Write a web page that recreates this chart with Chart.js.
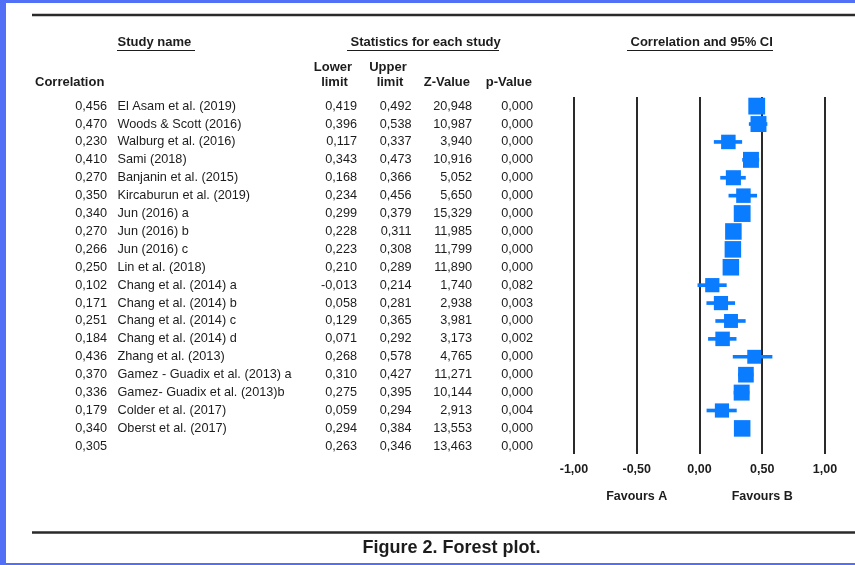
<!DOCTYPE html>
<html>
<head>
<meta charset="utf-8">
<script src="https://cdn.jsdelivr.net/npm/chart.js@4/dist/chart.umd.min.js"></script>
<style>
  html, body { margin: 0; padding: 0; background: #fff; }
  canvas { display: block; }
</style>
</head>
<body>
<canvas id="forest" width="855" height="565"></canvas>
<script>
// Study-level correlations (last entry is the pooled row, which has no study name)
const studies = [
  'El Asam et al. (2019)', 'Woods & Scott (2016)', 'Walburg et al. (2016)', 'Sami (2018)',
  'Banjanin et al. (2015)', 'Kircaburun et al. (2019)', 'Jun (2016) a', 'Jun (2016) b',
  'Jun (2016) c', 'Lin et al. (2018)', 'Chang et al. (2014) a', 'Chang et al. (2014) b',
  'Chang et al. (2014) c', 'Chang et al. (2014) d', 'Zhang et al. (2013)',
  'Gamez - Guadix et al. (2013) a', 'Gamez- Guadix et al. (2013)b', 'Colder et al. (2017)',
  'Oberst et al. (2017)', ''
];
const correlation = [0.456, 0.470, 0.230, 0.410, 0.270, 0.350, 0.340, 0.270, 0.266, 0.250,
                     0.102, 0.171, 0.251, 0.184, 0.436, 0.370, 0.336, 0.179, 0.340, 0.305];
const lowerLimit  = [0.419, 0.396, 0.117, 0.343, 0.168, 0.234, 0.299, 0.228, 0.223, 0.210,
                     -0.013, 0.058, 0.129, 0.071, 0.268, 0.310, 0.275, 0.059, 0.294, 0.263];
const upperLimit  = [0.492, 0.538, 0.337, 0.473, 0.366, 0.456, 0.379, 0.311, 0.308, 0.289,
                     0.214, 0.281, 0.365, 0.292, 0.578, 0.427, 0.395, 0.294, 0.384, 0.346];
const zValue      = [20.948, 10.987, 3.940, 10.916, 5.052, 5.650, 15.329, 11.985, 11.799, 11.890,
                     1.740, 2.938, 3.981, 3.173, 4.765, 11.271, 10.144, 2.913, 13.553, 13.463];
const pValue      = [0.000, 0.000, 0.000, 0.000, 0.000, 0.000, 0.000, 0.000, 0.000, 0.000,
                     0.082, 0.003, 0.000, 0.002, 0.000, 0.000, 0.000, 0.004, 0.000, 0.000];
// Relative weight of each study (%), sets the size of its square
const relWeight   = [5.8, 5.5, 5.0, 5.5, 5.2, 5.0, 5.8, 5.7, 5.7, 5.7,
                     4.9, 4.9, 4.8, 5.0, 4.8, 5.4, 5.5, 4.9, 5.7];
const xTicks = [-1, -0.5, 0, 0.5, 1];
const sideLabels = ['Favours A', 'Favours B'];
const sideLabelAt = [-0.5, 0.5];

const FONT = '"Liberation Sans", Arial, Helvetica, sans-serif';
const INK = '#1c1c1c';
const BLUE = '#0a7cff';
const nStudies = studies.length - 1;

const dec = (v, d) => v.toFixed(d).replace('.', ',');

// Table columns, header text and frame drawn around the plot
const tablePlugin = {
  id: 'forestTable',
  beforeDraw(chart) {
    const ctx = chart.ctx;
    ctx.save();
    ctx.fillStyle = '#5170f5';
    ctx.fillRect(0, 0, chart.width, chart.height);
    ctx.fillStyle = '#ffffff';
    ctx.fillRect(6, 3, chart.width - 6, 560);
    ctx.restore();
  },
  afterDraw(chart) {
    const ctx = chart.ctx;
    const ys = chart.scales.y;
    const xs = chart.scales.x;
    ctx.save();
    ctx.fillStyle = INK;
    ctx.strokeStyle = INK;
    ctx.textBaseline = 'middle';

    // horizontal rules
    ctx.lineWidth = 2.5;
    ctx.strokeStyle = '#2a2a2a';
    ctx.beginPath();
    ctx.moveTo(32, 15); ctx.lineTo(855, 15);
    ctx.moveTo(32, 532.5); ctx.lineTo(855, 532.5);
    ctx.stroke();

    // underlined group headers
    ctx.font = 'bold 13px ' + FONT;
    ctx.textAlign = 'left';
    ctx.lineWidth = 1;
    ctx.strokeStyle = INK;
    const groups = [
      ['Study name', 117.5, 117, 195],
      ['Statistics for each study', 350.5, 347, 499],
      ['Correlation and 95% CI', 630.5, 627, 773]
    ];
    groups.forEach(([t, x, u0, u1]) => {
      ctx.fillText(t, x, 42.5);
      ctx.beginPath();
      ctx.moveTo(u0, 50.5); ctx.lineTo(u1, 50.5);
      ctx.stroke();
    });

    // column headers
    ctx.fillText('Correlation', 35, 82.5);
    ctx.textAlign = 'center';
    ctx.fillText('Lower', 333, 67);
    ctx.fillText('limit', 334.5, 82.5);
    ctx.fillText('Upper', 388, 67);
    ctx.fillText('limit', 390, 82.5);
    ctx.textAlign = 'right';
    ctx.fillText('Z-Value', 470, 82.5);
    ctx.fillText('p-Value', 532, 82.5);

    // study rows
    ctx.font = '12.7px ' + FONT;
    studies.forEach((name, i) => {
      const y = ys.getPixelForValue(i);
      ctx.textAlign = 'right';
      ctx.fillText(dec(correlation[i], 3), 107, y);
      ctx.fillText(dec(lowerLimit[i], 3), 357, y);
      ctx.fillText(dec(upperLimit[i], 3), 411.5, y);
      ctx.fillText(dec(zValue[i], 3), 472, y);
      ctx.fillText(dec(pValue[i], 3), 533, y);
      ctx.textAlign = 'left';
      ctx.fillText(name, 117.5, y);
    });

    // side labels under the axis
    ctx.font = 'bold 12.5px ' + FONT;
    ctx.textAlign = 'center';
    sideLabels.forEach((t, k) => ctx.fillText(t, xs.getPixelForValue(sideLabelAt[k]), 497));

    // caption
    ctx.font = 'bold 18px ' + FONT;
    ctx.fillText('Figure 2. Forest plot.', 451.5, 548);
    ctx.restore();
  }
};

const rows = studies.slice(0, nStudies);

new Chart(document.getElementById('forest'), {
  type: 'bar',
  data: {
    datasets: [
      {
        type: 'scatter',
        data: rows.map((_, i) => ({ x: correlation[i], y: i })),
        pointStyle: 'rect',
        pointRadius: relWeight.map(w => (w * 2.9) / Math.SQRT2),
        pointHoverRadius: relWeight.map(w => (w * 2.9) / Math.SQRT2),
        backgroundColor: BLUE,
        borderColor: BLUE,
        borderWidth: 0,
        order: 0
      },
      {
        type: 'bar',
        indexAxis: 'y',
        data: rows.map((_, i) => ({ x: [lowerLimit[i], upperLimit[i]], y: i })),
        barThickness: 3,
        backgroundColor: BLUE,
        borderWidth: 0,
        order: 1
      }
    ]
  },
  options: {
    responsive: false,
    animation: false,
    devicePixelRatio: 1,
    layout: { padding: { left: 574, right: 30, top: 97, bottom: 89 } },
    plugins: { legend: { display: false }, tooltip: { enabled: false } },
    scales: {
      x: {
        type: 'linear',
        position: 'bottom',
        min: -1,
        max: 1,
        offset: false,
        afterBuildTicks: s => { s.ticks = xTicks.map(v => ({ value: v })); },
        afterFit: s => { s.height = 22; },
        grid: { color: '#2a2a2a', lineWidth: 2, drawTicks: false, offset: false },
        border: { display: false },
        ticks: {
          padding: 8,
          color: INK,
          font: { family: FONT, size: 12.5, weight: 'bold' },
          callback: v => dec(v, 2)
        }
      },
      y: {
        type: 'linear',
        min: -0.51,
        max: 19.43,
        reverse: true,
        offset: false,
        grid: { offset: false },
        display: false
      }
    }
  },
  plugins: [tablePlugin]
});
</script>
</body>
</html>
